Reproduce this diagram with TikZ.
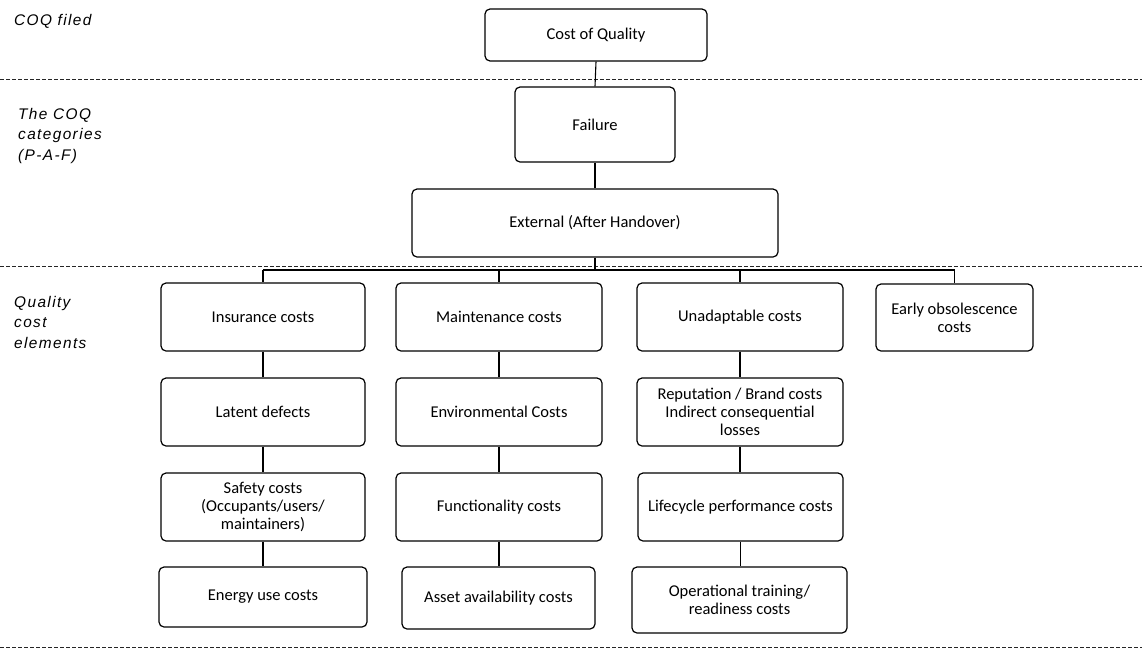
\documentclass[tikz,border=0pt]{standalone}
\usepackage{fontspec}
\setmainfont{Carlito}
\newfontfamily\labfont[LetterSpace=9]{Liberation Sans}
\begin{document}
\begin{tikzpicture}[x=1pt,y=-1pt,
  box/.style={draw=black, line width=1.2pt, rounded corners=5pt, inner sep=0pt,
    align=center, font=\fontsize{16.5}{18.3}\selectfont},
  conn/.style={draw=black, line width=1.1pt},
  sep/.style={draw=black!85, line width=0.9pt, dash pattern=on 4pt off 2pt},
  lab/.style={anchor=base west, inner sep=0pt, align=left,
    font=\labfont\itshape\fontsize{15.4}{20.5}\selectfont}]
\useasboundingbox (0,0) rectangle (1142,649);
% separators
\draw[sep] (0,79) -- (1142,79);
\draw[sep] (0,266) -- (1142,266);
\draw[sep] (0,647) -- (1142,647);
% labels (base anchor = baseline of last line)
\node[lab] (l1) at (14,25) {COQ filed};
\node[lab] (l2) at (18,160) {The COQ\\categories\\(P-A-F)};
\node[lab] (l3) at (14,348) {Quality\\cost\\elements};
% top boxes
\node[box, minimum width=222pt, minimum height=52pt] (coq) at (596,35) {Cost of Quality};
\node[box, minimum width=160pt, minimum height=75pt] (fail) at (595,124.5) {Failure};
\node[box, minimum width=366pt, minimum height=68pt] (ext) at (595,223) {External (After Handover)};
% column 1
\node[box, minimum width=204pt, minimum height=68pt] (ins) at (263,317) {Insurance costs};
\node[box, minimum width=204pt, minimum height=68pt] (lat) at (263,412) {Latent defects};
\node[box, minimum width=204pt, minimum height=68pt] (saf) at (263,507) {Safety costs\\(Occupants/users/\\maintainers)};
\node[box, minimum width=208pt, minimum height=60pt] (ene) at (263,597) {Energy use costs};
% column 2
\node[box, minimum width=206pt, minimum height=68pt] (mai) at (499,317) {Maintenance costs};
\node[box, minimum width=206pt, minimum height=68pt] (env) at (499,412) {Environmental Costs};
\node[box, minimum width=206pt, minimum height=68pt] (fun) at (499,507) {Functionality costs};
\node[box, minimum width=193pt, minimum height=62pt] (ass) at (498.5,598) {Asset availability costs};
% column 3
\node[box, minimum width=206pt, minimum height=68pt] (una) at (740,317) {Unadaptable costs};
\node[box, minimum width=206pt, minimum height=68pt] (rep) at (740,412) {Reputation / Brand costs\\Indirect consequential\\losses};
\node[box, minimum width=205pt, minimum height=68pt] (lif) at (740.5,507) {Lifecycle performance costs};
\node[box, minimum width=215pt, minimum height=66pt] (ope) at (739.5,600) {Operational training/\\readiness costs};
% column 4
\node[box, minimum width=157pt, minimum height=67pt] (ear) at (954.5,317.5) {Early obsolescence\\costs};
% bus
\coordinate (b1) at (263,270);
\coordinate (b4) at (954.5,270);
\draw[conn] (coq.south) -- (fail.north);
\draw[conn] (fail.south) -- (ext.north);
\draw[conn] (ext.south) -- (ext.south |- b1);
\draw[conn] (b1) -- (b4);
\draw[conn] (b1) -- (ins.north);
\draw[conn] (mai.north |- b1) -- (mai.north);
\draw[conn] (una.north |- b1) -- (una.north);
\draw[conn] (b4) -- (ear.north);
\draw[conn] (ins.south) -- (lat.north);
\draw[conn] (lat.south) -- (saf.north);
\draw[conn] (saf.south) -- (ene.north);
\draw[conn] (mai.south) -- (env.north);
\draw[conn] (env.south) -- (fun.north);
\draw[conn] (fun.south) -- (fun.south |- ass.north);
\draw[conn] (una.south) -- (rep.north);
\draw[conn] (rep.south) -- (rep.south |- lif.north);
\draw[conn] (lif.south) -- (lif.south |- ope.north);
\end{tikzpicture}
\end{document}
